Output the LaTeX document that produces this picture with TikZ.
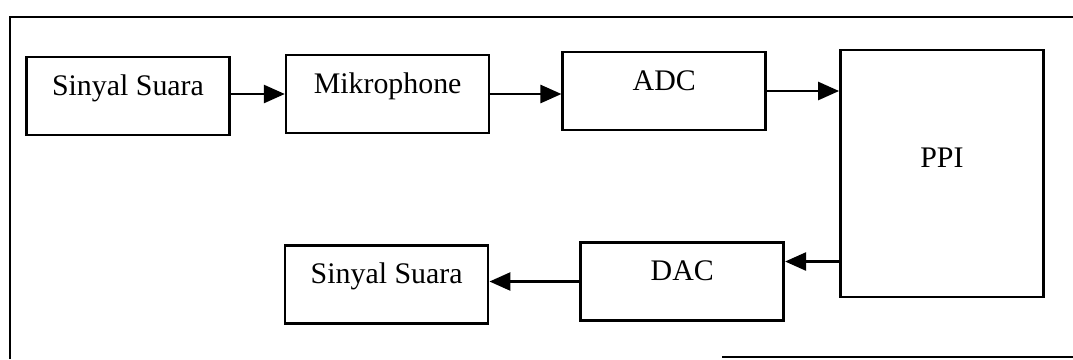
\documentclass[tikz,border=0pt]{standalone}
\usepackage{fontspec}
\setmainfont{Liberation Serif}
\usepackage{tikz}
\usetikzlibrary{positioning,arrows.meta}
\tikzset{
  kotak/.style={rectangle, draw=black, line width=1.5pt, minimum width=4.06cm,
    inner sep=0pt, text height=0.76cm, text depth=0.8cm,
    font=\fontsize{17}{20}\selectfont},
  kotakppi/.style={kotak, text height=2.34cm, text depth=2.6cm},
  panah/.style={-{Triangle[length=4.2mm, width=3.6mm]}, line width=1.5pt},
  bingkai/.style={line width=1.5pt},
}
\begin{document}
\begin{tikzpicture}[node distance=1.08cm]
  \useasboundingbox (0,0) rectangle (21.46,-7.18);
  % frame
  \draw[bingkai] (0.2,-7.18) -- (0.2,-0.34) -- (21.46,-0.34);
  \draw[bingkai] (14.44,-7.14) -- (21.46,-7.14);
  % top row
  \node[kotak] (suara1) at (2.56,-1.92) {Sinyal Suara};
  \node[kotak, right=1.08cm of suara1, yshift=0.04cm] (mik) {Mikrophone};
  \node[kotak, right=1.42cm of mik, yshift=0.06cm] (adc) {ADC};
  \node[kotakppi, right=1.44cm of adc, yshift=-1.65cm] (ppi) {PPI};
  % bottom row
  \node[kotak, left=1.08cm of ppi, yshift=-2.16cm] (dac) {DAC};
  \node[kotak, left=1.8cm of dac, yshift=-0.06cm] (suara2) {Sinyal Suara};
  \draw[panah] (suara1.east |- mik.west) -- (mik.west);
  \draw[panah] (mik.east) -- (mik.east -| adc.west);
  \draw[panah] (adc.east) -- (adc.east -| ppi.west);
  \draw[panah] ([yshift=0.4cm]dac.east -| ppi.west) -- ([yshift=0.4cm]dac.east);
  \draw[panah] (dac.west) -- (dac.west -| suara2.east);
\end{tikzpicture}
\end{document}
